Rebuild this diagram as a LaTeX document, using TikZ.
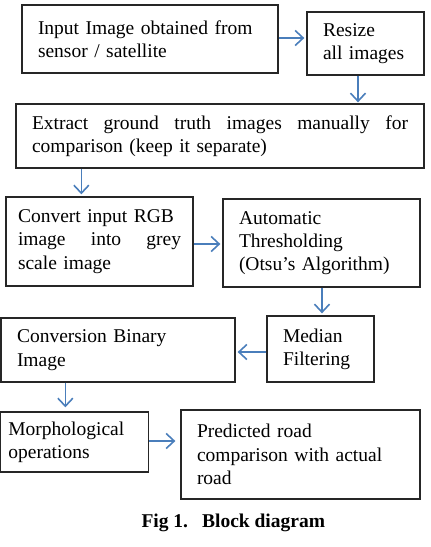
\documentclass[tikz,border=0pt]{standalone}
\usepackage{fontspec}
\setmainfont{Liberation Serif}
\usetikzlibrary{arrows.meta,calc}
\definecolor{arrowblue}{HTML}{4A7EBB}
\tikzset{
  box/.style={draw=black!85, line width=1.3pt, rectangle, inner xsep=16pt, inner ysep=0pt,
    font=\fontsize{19.5}{23.3}\selectfont, align=left},
  flow/.style={draw=arrowblue, line width=1.6pt, -{Straight Barb[length=8pt,width=15pt,line width=1.6pt]}},
}
\newcommand{\mkbox}[7]{% name, x1,y1,x2,y2, options, text
  \node[box, minimum width={#4-#2}, minimum height={#5-#3}, text width={#4-#2-32}, #6]
    (#1) at ({(#2+#4)/2},{(#3+#5)/2}) {#7};}
\begin{document}
\begin{tikzpicture}[x=1pt,y=-1pt]
\useasboundingbox (0,0) rectangle (431,547);
\mkbox{b1}{22}{5}{278}{73}{}{Input Image obtained from\\sensor / satellite}
\mkbox{b2}{307}{12}{424}{75}{}{Resize\\all images}
\mkbox{b3}{16}{104}{424}{168}{}{Extract\hfill ground\hfill truth\hfill images\hfill manually\hfill for\\comparison (keep it separate)}
\mkbox{b4}{6}{197}{193}{286}{inner xsep=12pt, text width=163}{Convert input RGB\\image\hfill into\hfill grey\\scale image}
\mkbox{b5}{223}{199}{420}{287}{}{Automatic\\Thresholding\\(Otsu’s Algorithm)}
\mkbox{b6}{267}{316}{374}{382}{}{Median\\Filtering}
\mkbox{b7}{1}{318}{235}{382}{}{Conversion Binary\\Image}
\mkbox{b8}{0.7}{412}{148}{472}{inner xsep=8pt, text width=132}{Morphological\\operations}
\mkbox{b9}{181}{410}{420}{499}{}{Predicted road\\comparison with actual\\road}
\node[anchor=base west, font=\fontsize{19.5}{23.3}\selectfont\bfseries] (cap) at (138,527) {Fig 1.\hspace{14pt}Block diagram};
% connectors
\draw[flow, shorten >=2pt] ([yshift=1]b1.east) -- ([yshift=1]b1.east -| b2.west);
\draw[flow, shorten >=1pt] ([xshift=-7.5]b2.south) -- ([xshift=-7.5]b2.south |- b3.north);
\draw[flow, shorten >=2pt] ([xshift=66]b3.south west) -- ([xshift=66]b3.south west |- b4.north);
\draw[flow, shorten >=2pt] ([yshift=-2.5]b4.east) -- ([yshift=-2.5]b4.east -| b5.west);
\draw[flow, shorten >=2pt] ([xshift=0.5]b5.south) -- ([xshift=0.5]b5.south |- b6.north);
\draw[flow, shorten >=2pt] ([yshift=-3]b6.west) -- ([yshift=-3]b6.west -| b7.east);
\draw[flow, shorten >=4pt] ([xshift=65]b7.south west) -- ([xshift=65]b7.south west |- b8.north);
\draw[flow, shorten >=5pt] ([yshift=1]b8.east) -- ([yshift=1]b8.east -| b9.west);
\end{tikzpicture}
\end{document}
